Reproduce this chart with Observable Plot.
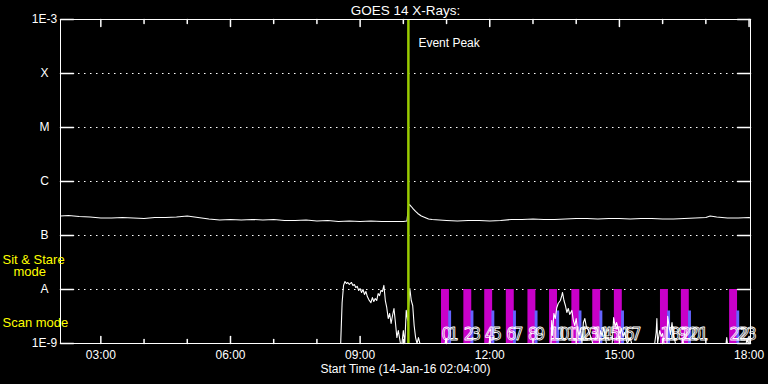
<!DOCTYPE html>
<html><head><meta charset="utf-8">
<script src="https://cdn.jsdelivr.net/npm/d3@7"></script>
<script src="https://cdn.jsdelivr.net/npm/@observablehq/plot@0.6"></script>
<style>html,body{margin:0;padding:0;background:#000;overflow:hidden}#chart svg{display:block}</style>
</head><body><div id="chart"></div>
<script>
// ---------- data ----------
const title = "GOES 14 X-Rays:";
const xAxisTitle = "Start Time (14-Jan-16 02:04:00)";
const timeStart = "02:04";
const timeEnd = "18:02";
const eventPeakTime = "10:07";
const eventPeakLabel = "Event Peak";
const hourTicks = [3, 4, 5, 6, 7, 8, 9, 10, 11, 12, 13, 14, 15, 16, 17, 18];
const majorHourTicks = [3, 6, 9, 12, 15, 18];
const classLevels = [1e-3, 1e-4, 1e-5, 1e-6, 1e-7, 1e-8, 1e-9];
const classLabels = ["1E-3", "X", "M", "C", "B", "A", "1E-9"];
const gridLevels = [1e-4, 1e-5, 1e-6, 1e-7, 1e-8];
const modeLabelSit = ["Sit & Stare", "mode"];
const modeLabelScan = "Scan mode";

// GOES long channel (1-8 Å), W/m²
const longTimes = ["02:04","02:15","02:30","02:45","03:00","03:15","03:30","03:45","04:00","04:15","04:30","04:45","05:00","05:15","05:30","05:45","06:00","06:15","06:30","06:45","07:00","07:15","07:30","07:45","08:00","08:15","08:30","08:45","09:00","09:15","09:30","09:45","10:00","10:05","10:06","10:07","10:08","10:09","10:11","10:14","10:17","10:20","10:25","10:30","10:35","10:40","10:50","11:00","11:15","11:30","11:45","12:00","12:15","12:30","12:45","13:00","13:15","13:30","13:45","14:00","14:15","14:30","14:45","15:00","15:15","15:30","15:45","16:00","16:15","16:30","16:45","17:00","17:06","17:15","17:30","17:45","18:00","18:02"];
const longFlux = [2.30e-7,2.35e-7,2.25e-7,2.20e-7,2.11e-7,2.11e-7,2.16e-7,2.11e-7,2.07e-7,2.16e-7,2.16e-7,2.20e-7,2.30e-7,2.16e-7,2.02e-7,1.94e-7,1.98e-7,1.94e-7,1.98e-7,1.94e-7,1.98e-7,1.90e-7,1.90e-7,1.94e-7,1.86e-7,1.90e-7,1.82e-7,1.86e-7,1.82e-7,1.86e-7,1.82e-7,1.82e-7,1.82e-7,1.86e-7,2.45e-7,3.44e-7,3.75e-7,3.69e-7,3.44e-7,3.07e-7,2.79e-7,2.56e-7,2.30e-7,2.16e-7,2.02e-7,1.98e-7,1.94e-7,1.90e-7,1.86e-7,1.90e-7,1.90e-7,1.86e-7,1.90e-7,1.98e-7,1.98e-7,2.02e-7,1.98e-7,1.98e-7,2.02e-7,2.07e-7,2.07e-7,2.02e-7,2.07e-7,2.07e-7,2.02e-7,2.07e-7,2.07e-7,2.02e-7,2.02e-7,2.07e-7,2.11e-7,2.16e-7,2.30e-7,2.20e-7,2.11e-7,2.11e-7,2.16e-7,2.11e-7];

// GOES short channel (0.5-4 Å), W/m²; values under 1E-9 sit on the bottom axis
const shortTimes = ["08:33","08:35","08:37","08:39","08:41","08:43","08:45","08:48","08:50","08:52","08:54","08:56","08:58","09:00","09:02","09:04","09:06","09:08","09:10","09:12","09:15","09:17","09:19","09:21","09:23","09:25","09:27","09:29","09:31","09:33","09:35","09:37","09:39","09:41","09:43","09:45","09:47","09:49","09:51","09:53","09:56","09:58","10:00","10:02","10:04","10:06","10:09","10:11","10:13","10:15","10:17","10:19","10:21","10:23","10:58","10:59","11:00","11:59","12:00","12:01","13:25","13:26","13:27","13:29","13:31","13:33","13:35","13:38","13:40","13:41","13:43","13:45","13:47","13:49","13:51","13:54","13:56","13:58","14:00","14:02","14:04","14:06","14:08","14:10","14:12","14:14","14:17","14:19","14:21","14:23","14:32","14:34","14:36","14:38","14:40","14:42","14:50","14:52","14:54","14:56","14:59","15:01","15:03","15:05","15:07","15:09","15:11","15:15","15:17","15:49","15:51","15:52","15:53","15:56","15:58","16:00","16:02","16:06","16:07","16:09","16:11","16:13","16:15","16:18","16:27","16:28","16:29","17:28","17:29","17:30","17:56","17:57","17:59","18:02"];
const shortFlux = [5e-10,5.7e-9,1.19e-8,1.41e-8,1.29e-8,1.35e-8,1.24e-8,1.35e-8,1.19e-8,1.24e-8,1.09e-8,1.14e-8,9.6e-9,1.04e-8,8.8e-9,1.0e-8,8.1e-9,9.2e-9,7.4e-9,6.5e-9,5.7e-9,7.1e-9,6.0e-9,6.8e-9,6.25e-9,8.4e-9,7.7e-9,9.6e-9,9.2e-9,1.19e-8,6.25e-9,4.6e-9,2.9e-9,3.6e-9,2.35e-9,3.3e-9,4.45e-9,2.45e-9,1.29e-9,1.74e-9,5e-10,5e-10,1.74e-9,5e-10,4.1e-9,2.67e-9,1.04e-8,6.25e-9,5.06e-9,2.15e-9,1.29e-9,5e-10,1.29e-9,5e-10,5e-10,1.24e-9,5e-10,5e-10,1.24e-9,5e-10,5e-10,2.67e-9,1.41e-9,3.6e-9,2.9e-9,4.6e-9,5.5e-9,6.25e-9,7.7e-9,8.8e-9,6.25e-9,5.06e-9,3.75e-9,4.45e-9,3.45e-9,4.1e-9,2.67e-9,2.15e-9,2.9e-9,1.74e-9,1.41e-9,1.9e-9,5e-10,2.45e-9,2.9e-9,2.07e-9,1.74e-9,1.47e-9,1.24e-9,5e-10,5e-10,1.74e-9,1.35e-9,1.98e-9,1.41e-9,5e-10,5e-10,3.03e-9,2.07e-9,2.45e-9,1.74e-9,1.53e-9,1.9e-9,1.35e-9,1.6e-9,1.24e-9,5e-10,1.29e-9,5e-10,5e-10,1.6e-9,2.9e-9,5e-10,1.74e-9,1.35e-9,1.53e-9,5e-10,5e-10,3.2e-9,2.07e-9,1.47e-9,2.45e-9,1.41e-9,5e-10,5e-10,1.24e-9,5e-10,5e-10,1.29e-9,5e-10,5e-10,1.24e-9,5e-10,5e-10];

// observation windows: raster (magenta) and sit-and-stare (blue)
const rasterStart = ["10:53","11:24","11:53","12:23","12:53","13:23","13:54","14:23","14:53","15:57","16:26","17:33"];
const rasterEnd   = ["11:04","11:35","12:04","12:34","13:04","13:34","14:05","14:34","15:04","16:08","16:37","17:44"];
const stareStart  = ["11:03","11:34","12:03","12:33","13:03","13:33","14:04","14:33","15:03","16:07","16:36","17:43"];
const stareEnd    = ["11:07","11:38","12:07","12:37","13:07","13:37","14:08","14:37","15:07","16:11","16:40","17:47"];
const rasterLevel = 1e-8;
const stareLevel = 4e-9;
const baseLevel = 1e-9;
const rasterIndex = ["0","2","4","6","8","10","12","14","16","18","20","22"];
const stareIndex  = ["1","3","5","7","9","11","13","15","17","19","21","23"];

// ---------- build ----------
const hrs = s => { const [h, m] = s.split(":").map(Number); return h + m / 60; };
const longData = longTimes.map((t, i) => ({t: hrs(t), v: longFlux[i]}));
const shortData = shortTimes.map((t, i) => ({t: hrs(t), v: shortFlux[i]}));
const rasters = rasterStart.map((s, i) => ({x1: hrs(s), x2: hrs(rasterEnd[i]), y1: baseLevel, y2: rasterLevel}));
const stares = stareStart.map((s, i) => ({x1: hrs(s), x2: hrs(stareEnd[i]), y1: baseLevel, y2: stareLevel}));
const indexLabels = rasterStart.flatMap((s, i) => [{t: hrs(s), text: rasterIndex[i]}, {t: hrs(stareStart[i]), text: stareIndex[i]}]);
const minorHours = hourTicks.filter(h => !majorHourTicks.includes(h));
const peak = hrs(eventPeakTime);
const fmtHour = h => String(h).padStart(2, "0") + ":00";

const tickShape = {draw(context, l) { context.moveTo(0, 0); context.lineTo(0, -l); }};
const font = "Liberation Sans, Arial, sans-serif";
const W = "white";

const chart = Plot.plot({
  width: 768,
  height: 384,
  marginLeft: 60,
  marginRight: 18,
  marginTop: 19,
  marginBottom: 41,
  style: {background: "black", color: "white", fontFamily: font, fontSize: "12px"},
  x: {domain: [hrs(timeStart), hrs(timeEnd)], axis: null},
  y: {type: "log", domain: [1e-9, 1e-3], axis: null, clamp: true},
  marks: [
    Plot.ruleY(gridLevels, {y: d => d, stroke: W, strokeDasharray: "1.5,4.5", strokeWidth: 1.2}),
    Plot.rect(rasters, {x1: "x1", x2: "x2", y1: "y1", y2: "y2", fill: "#c800c8"}),
    Plot.rect(stares, {x1: "x1", x2: "x2", y1: "y1", y2: "y2", fill: "#6464ff"}),
    Plot.line(longData, {x: "t", y: "v", stroke: W, strokeWidth: 1.1}),
    Plot.line(shortData, {x: "t", y: "v", stroke: W, strokeWidth: 1.1}),
    Plot.text(indexLabels, {x: "t", text: "text", frameAnchor: "bottom", lineAnchor: "bottom", dy: -4, textAnchor: "start",
      fill: "none", stroke: W, strokeWidth: 0.8, fontSize: 17.5, fontFamily: "Liberation Sans Narrow, DejaVu Sans Condensed, Liberation Sans"}),
    Plot.ruleX([peak], {x: d => d, stroke: "#99cc00", strokeWidth: 2.5}),
    Plot.text([eventPeakLabel], {x: () => peak, text: d => d, frameAnchor: "top", lineAnchor: "middle", dy: 24, dx: 10, textAnchor: "start", fill: W, fontSize: 12}),
    // frame and ticks
    Plot.frame({stroke: W, strokeWidth: 1}),
    Plot.vector(majorHourTicks, {x: d => d, frameAnchor: "bottom", anchor: "start", rotate: 0, length: 7, shape: tickShape, stroke: W}),
    Plot.vector(minorHours, {x: d => d, frameAnchor: "bottom", anchor: "start", rotate: 0, length: 4, shape: tickShape, stroke: W}),
    Plot.vector(majorHourTicks, {x: d => d, frameAnchor: "top", anchor: "start", rotate: 180, length: 7, shape: tickShape, stroke: W}),
    Plot.vector(minorHours, {x: d => d, frameAnchor: "top", anchor: "start", rotate: 180, length: 4, shape: tickShape, stroke: W}),
    Plot.vector(classLevels, {y: d => d, frameAnchor: "left", anchor: "start", rotate: 90, length: 13, shape: tickShape, stroke: W}),
    Plot.vector(classLevels, {y: d => d, frameAnchor: "right", anchor: "start", rotate: -90, length: 13, shape: tickShape, stroke: W}),
    // labels
    Plot.text(classLevels, {y: d => d, text: (d, i) => classLabels[i], frameAnchor: "left", dx: -16, textAnchor: "middle", fill: W, fontSize: 12}),
    Plot.text(majorHourTicks, {x: d => d, text: fmtHour, frameAnchor: "bottom", lineAnchor: "middle", dy: 12, fill: W, fontSize: 12}),
    Plot.text([xAxisTitle], {text: d => d, frameAnchor: "bottom", lineAnchor: "middle", dy: 26, fill: W, fontSize: 12}),
    Plot.text([title], {text: d => d, frameAnchor: "top", lineAnchor: "middle", dy: -9, fill: W, fontSize: 13.5}),
    Plot.text([modeLabelSit[0]], {text: d => d, y: () => 3.6e-8, frameAnchor: "left", dx: -58, textAnchor: "start", fill: "yellow", fontSize: 13}),
    Plot.text([modeLabelSit[1]], {text: d => d, y: () => 2.1e-8, frameAnchor: "left", dx: -47, textAnchor: "start", fill: "yellow", fontSize: 13}),
    Plot.text([modeLabelScan], {text: d => d, y: () => 2.4e-9, frameAnchor: "left", dx: -58, textAnchor: "start", fill: "yellow", fontSize: 13})
  ]
});
document.getElementById("chart").append(chart);
</script>
</body></html>
